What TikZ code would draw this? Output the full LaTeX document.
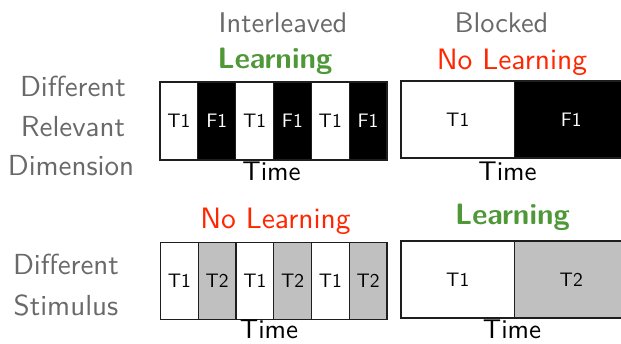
\documentclass[tikz,border=0pt]{standalone}
\usepackage{fontspec}
\setsansfont{lmsans10-regular}[Extension=.otf,BoldFont=lmsans10-bold]
\definecolor{lblgray}{RGB}{105,105,105}
\definecolor{lgreen}{RGB}{78,152,56}
\definecolor{lred}{RGB}{255,38,0}
\definecolor{segfill}{RGB}{192,192,192}
\definecolor{edge}{RGB}{30,30,30}
\newcommand{\fs}[1]{\fontsize{#1}{#1}\selectfont}
\begin{document}
\begin{tikzpicture}[x=1pt,y=-1pt,
  hdr/.style={anchor=base,text=lblgray,font=\sffamily\fs{28.4}},
  rowlbl/.style={anchor=base,text=lblgray,font=\sffamily\fs{29}},
  good/.style={anchor=base,text=lgreen,font=\sffamily\bfseries\fs{29.5}},
  bad/.style={anchor=base,text=lred,font=\sffamily\fs{29.5}},
  timelbl/.style={anchor=base,text=black,font=\sffamily\fs{27}},
  seg/.style={draw=edge,line width=1.2pt,rectangle,inner sep=0pt,font=\sffamily\fs{19.5}},
  wseg/.style={seg,fill=white,text=black},
  bseg/.style={seg,fill=black,text=white},
  gseg/.style={seg,fill=segfill,text=black}]
\useasboundingbox (0,0) rectangle (621,343);
% headers
\node[hdr] (hI) at (283,32) {Interleaved};
\node[hdr] (hB) at (501.5,32) {Blocked};
\node[good] (l1) at (275,68) {Learning};
\node[bad] (l2) at (512,69) {No Learning};
\node[bad] (l3) at (275.5,228) {No Learning};
\node[good] (l4) at (512.5,224) {Learning};
% row labels
\node[rowlbl] (r1a) at (73,96) {Different};
\node[rowlbl] (r1b) at (73,136) {Relevant};
\node[rowlbl] (r1c) at (71,175) {Dimension};
\node[rowlbl] (r2a) at (66,274) {Different};
\node[rowlbl] (r2b) at (66,315) {Stimulus};
% top-left interleaved
\foreach \i/\s/\t in {0/wseg/T1,1/bseg/F1,2/wseg/T1,3/bseg/F1,4/wseg/T1,5/bseg/F1}{
  \node[\s,minimum width=37.83pt,minimum height=78pt] (a\i) at ({160+37.83*(\i+0.5)},121) {\t};
}
% top-right blocked
\node[wseg,minimum width=113.5pt,minimum height=77pt] (b0) at (457.75,119.5) {T1};
\node[bseg,minimum width=113.5pt,minimum height=77pt] (b1) at (571.25,119.5) {F1};
% bottom-left interleaved
\foreach \i/\s/\t in {0/wseg/T1,1/gseg/T2,2/wseg/T1,3/gseg/T2,4/wseg/T1,5/gseg/T2}{
  \node[\s,minimum width=37.83pt,minimum height=77pt] (c\i) at ({160.5+37.75*(\i+0.5)},281) {\t};
}
% bottom-right blocked
\node[wseg,minimum width=113.5pt,minimum height=77pt] (d0) at (457.75,279.5) {T1};
\node[gseg,minimum width=113.5pt,minimum height=77pt] (d1) at (571.25,279.5) {T2};
% time labels
\node[timelbl] (t1) at (271.5,180) {Time};
\node[timelbl] (t2) at (507.5,180) {Time};
\node[timelbl] (t3) at (269,338) {Time};
\node[timelbl] (t4) at (512,338) {Time};
\end{tikzpicture}
\end{document}
